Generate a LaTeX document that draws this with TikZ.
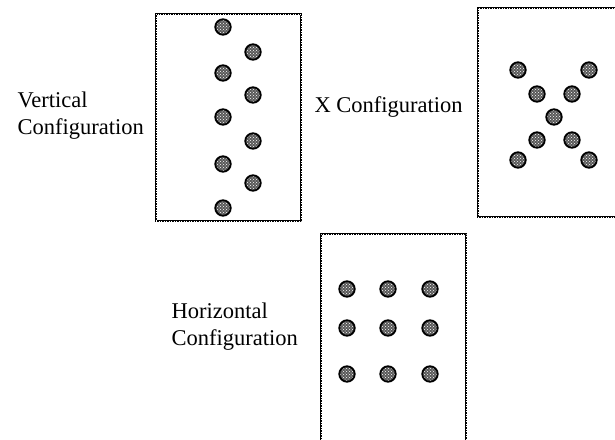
\documentclass[tikz,border=0pt]{standalone}
\usepackage{fontspec}
\setmainfont{Liberation Serif}
\usetikzlibrary{patterns}

\begin{document}
\begin{tikzpicture}[
  x=1pt, y=-1pt,
  frame/.style={draw, line width=2.4pt,
                postaction={draw=white, line width=0.35pt, dash pattern=on 0.5pt off 2pt}},
  bead/.style={circle, draw, line width=1.8pt, minimum size=15.5pt, inner sep=0pt,
               preaction={fill=black!65}, pattern=crosshatch dots, pattern color=white},
  lbl/.style={anchor=west, align=left, font=\fontsize{22.5}{27}\selectfont}
]
\useasboundingbox (0,0) rectangle (615,439);
\clip (0,0) rectangle (615,439);
% frames
\node[frame, minimum width=145pt, minimum height=207pt] (vbox) at (228.5,117.5) {};
\node[frame, minimum width=160pt, minimum height=209pt] (xbox) at (558,112.5) {};
\node[frame, minimum width=145pt, minimum height=230pt] (hbox) at (393.5,349) {};
% labels
\node[lbl] (vlbl) at (14,116) {Vertical\\Configuration};
\node[lbl] (xlbl) at (311,107) {X Configuration};
\node[lbl] (hlbl) at (168,327) {Horizontal\\Configuration};
% vertical configuration
\node[bead] (v1) at (223,27) {};
\node[bead] (v2) at (253,52) {};
\node[bead] (v3) at (223,73) {};
\node[bead] (v4) at (253,95) {};
\node[bead] (v5) at (223,117) {};
\node[bead] (v6) at (253,141) {};
\node[bead] (v7) at (223,164) {};
\node[bead] (v8) at (253,183) {};
\node[bead] (v9) at (223,208) {};
% X configuration
\node[bead] (x1) at (518,70) {};
\node[bead] (x2) at (589,70) {};
\node[bead] (x3) at (537,94) {};
\node[bead] (x4) at (572,94) {};
\node[bead] (x5) at (554,117) {};
\node[bead] (x6) at (537,140) {};
\node[bead] (x7) at (572,140) {};
\node[bead] (x8) at (518,160) {};
\node[bead] (x9) at (589,160) {};
% horizontal configuration
\node[bead] (h1) at (347,289) {};
\node[bead] (h2) at (388,289) {};
\node[bead] (h3) at (430,289) {};
\node[bead] (h4) at (347,328) {};
\node[bead] (h5) at (388,328) {};
\node[bead] (h6) at (430,328) {};
\node[bead] (h7) at (347,374) {};
\node[bead] (h8) at (388,374) {};
\node[bead] (h9) at (430,374) {};
\end{tikzpicture}
\end{document}
